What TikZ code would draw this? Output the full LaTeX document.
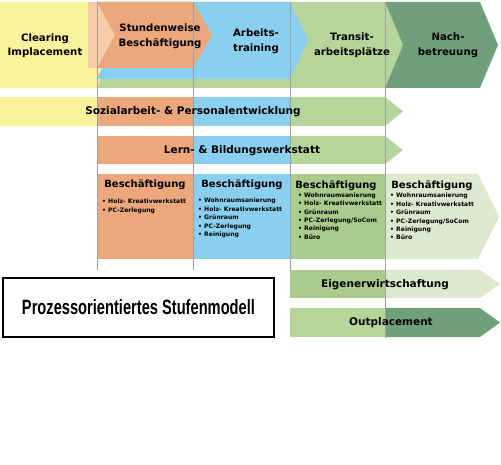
\documentclass[tikz,border=0pt]{standalone}
\usepackage{fontspec}
\setmainfont{DejaVu Sans}
\newfontfamily\titlefont{Liberation Sans}
\usepackage{graphicx}
\definecolor{cyellow}{HTML}{FBF29C}
\definecolor{corange}{HTML}{ECA77D}
\definecolor{cpeach}{HTML}{F8CCA8}
\definecolor{cblue}{HTML}{8BCFF0}
\definecolor{cgreen}{HTML}{B5D59A}
\definecolor{cmgreen}{HTML}{A9CC8D}
\definecolor{clgreen}{HTML}{DDE9CF}
\definecolor{cdgreen}{HTML}{6FA079}
\definecolor{cgrid}{HTML}{A0A0A0}
\tikzset{
  biglabel/.style={inner sep=0pt, align=center, font=\bfseries\fontsize{10.2}{14.5}\selectfont},
  bandlabel/.style={inner sep=0pt, font=\bfseries\fontsize{10.5}{12}\selectfont},
  boxtitle/.style={inner sep=0pt, font=\bfseries\fontsize{10}{12}\selectfont},
  itemlist/.style={inner sep=0pt, anchor=north west, align=left, font=\bfseries\fontsize{6.1}{8.4}\selectfont},
  gridline/.style={draw=cgrid, line width=0.5pt}
}
\begin{document}
\begin{tikzpicture}[x=1pt,y=-1pt]
\useasboundingbox (0,0) rectangle (501,465);
% ---------- top row ----------
\fill[cyellow] (0,2) rectangle (110,88);
\fill[cgreen] (97,2) -- (385,2) -- (403,45) -- (385,88) -- (97,88) -- (115,45) -- cycle;
\fill[cblue] (97,2) -- (290,2) -- (308,40.5) -- (290,79) -- (97,79) -- (115,40.5) -- cycle;
\fill[cpeach] (88,2) rectangle (115,68);
\fill[corange] (97,2) -- (193,2) -- (212,35) -- (193,68) -- (97,68) -- (115,35) -- cycle;
\fill[cdgreen] (385,2) -- (480,2) -- (498,45) -- (480,88) -- (385,88) -- (403,45) -- cycle;
% ---------- Sozialarbeit band ----------
\fill[cyellow] (0,97) rectangle (97,126);
\fill[corange] (97,97) rectangle (193,126);
\fill[cblue] (193,97) rectangle (290,126);
\fill[cgreen] (290,97) -- (385,97) -- (403,111.5) -- (385,126) -- (290,126) -- cycle;
% ---------- Lern band ----------
\fill[corange] (97,136) rectangle (193,164);
\fill[cblue] (193,136) rectangle (290,164);
\fill[cgreen] (290,136) -- (385,136) -- (403,150) -- (385,164) -- (290,164) -- cycle;
% ---------- Beschaeftigung row ----------
\fill[corange] (97,174) rectangle (193,259);
\fill[cblue] (193,174) rectangle (290,259);
\fill[cmgreen] (290,174) rectangle (385,259);
\fill[clgreen] (385,174) -- (478,174) -- (499,216.5) -- (478,259) -- (385,259) -- cycle;
% ---------- Eigenerwirtschaftung ----------
\fill[cmgreen] (290,270) rectangle (385,298);
\fill[clgreen] (385,270) -- (480,270) -- (500,284) -- (480,298) -- (385,298) -- cycle;
% ---------- Outplacement ----------
\fill[cgreen] (290,308) rectangle (385,337);
\fill[cdgreen] (385,308) -- (480,308) -- (500,322.5) -- (480,337) -- (385,337) -- cycle;
% ---------- grid lines ----------
\draw[gridline] (97,2) -- (97,270);
\draw[gridline] (193,2) -- (193,270);
\draw[gridline] (290,2) -- (290,270);
\draw[gridline] (385,2) -- (385,338);
% ---------- labels ----------
\node[biglabel] (clear) at (45,45.5) {Clearing\\Implacement};
\node[biglabel] (stund) at (160,36) {Stundenweise\\Besch\"aftigung};
\node[biglabel] (arb) at (256,41) {Arbeits-\\training};
\node[biglabel] (trans) at (352,45) {Transit-\\arbeitspl\"atze};
\node[biglabel] (nach) at (448,45) {Nach-\\betreuung};
\node[bandlabel] (sozial) at (193,112) {Sozialarbeit- \& Personalentwicklung};
\node[bandlabel] (lern) at (242,151) {Lern- \& Bildungswerkstatt};
\node[boxtitle] (b1) at (145,185) {Besch\"aftigung};
\node[boxtitle] (b2) at (242,185) {Besch\"aftigung};
\node[boxtitle] (b3) at (336,185.5) {Besch\"aftigung};
\node[boxtitle] (b4) at (432,185.5) {Besch\"aftigung};
\node[itemlist] (l1) at (102,199) {• Holz- Kreativwerkstatt\\• PC-Zerlegung};
\node[itemlist] (l2) at (198,198) {• Wohnraumsanierung\\• Holz- Kreativwerkstatt\\• Grünraum\\• PC-Zerlegung\\• Reinigung};
\node[itemlist] (l3) at (298,192.5) {• Wohnraumsanierung\\• Holz- Kreativwerkstatt\\• Grünraum\\• PC-Zerlegung/SoCom\\• Reinigung\\• Büro};
\node[itemlist] (l4) at (390,193) {• Wohnraumsanierung\\• Holz- Kreativwerkstatt\\• Grünraum\\• PC-Zerlegung/SoCom\\• Reinigung\\• Büro};
\node[bandlabel] (eigen) at (385,285) {Eigenerwirtschaftung};
\node[bandlabel] (outp) at (391,323) {Outplacement};
\node[draw=black, line width=1.2pt, minimum width=271pt, minimum height=59pt, inner sep=0pt] (title) at (138.5,307.5)
  {\resizebox{233pt}{15pt}{\titlefont\bfseries Prozessorientiertes Stufenmodell}};
\end{tikzpicture}
\end{document}
